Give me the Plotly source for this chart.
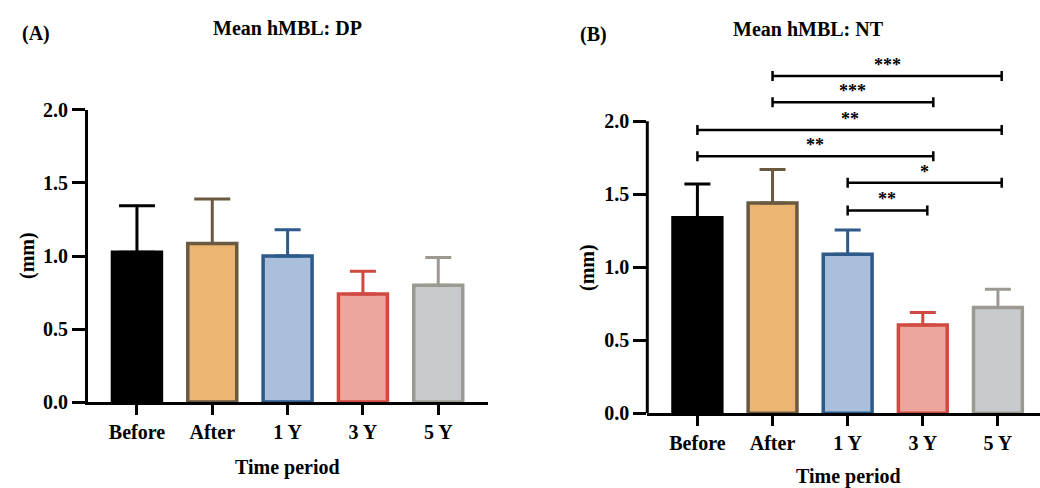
import plotly.graph_objects as go

categories = ["Before", "After", "1 Y", "3 Y", "5 Y"]

dp_mean = [1.025, 1.085, 1.00, 0.74, 0.80]
dp_err = [0.32, 0.305, 0.18, 0.155, 0.19]

nt_mean = [1.34, 1.44, 1.09, 0.605, 0.725]
nt_err = [0.23, 0.23, 0.165, 0.085, 0.125]

fills = ["#000000", "#EDB572", "#A9BFDC", "#ECA69C", "#C8CBCE"]
lines = ["#000000", "#6A5940", "#2D5A8A", "#D04A41", "#9C9A90"]
dp_cap = [18, 18, 13, 13, 13]
nt_cap = [13, 13, 13, 13, 13]

# significance comparisons in panel B: start, end (category positions), label, level (mm)
cmp_start = [1, 1, 0, 0, 2, 2]
cmp_end = [4.05, 3.14, 4.05, 3.14, 4.05, 3.06]
cmp_label = ["***", "***", "**", "**", "*", "**"]
cmp_level = [2.31, 2.13, 1.94, 1.76, 1.58, 1.39]

FONT = "Liberation Serif"
fig = go.Figure()

for i, c in enumerate(categories):
    fig.add_trace(go.Bar(
        x=[c], y=[dp_mean[i]], xaxis="x", yaxis="y", width=0.65,
        marker=dict(color=fills[i], line=dict(color=lines[i], width=3.5)),
        error_y=dict(type="data", symmetric=False, array=[dp_err[i]], arrayminus=[0],
                     color=lines[i], thickness=3, width=dp_cap[i]),
        showlegend=False))
    fig.add_trace(go.Bar(
        x=[c], y=[nt_mean[i]], xaxis="x2", yaxis="y2", width=0.65,
        marker=dict(color=fills[i], line=dict(color=lines[i], width=3.5)),
        error_y=dict(type="data", symmetric=False, array=[nt_err[i]], arrayminus=[0],
                     color=lines[i], thickness=3, width=nt_cap[i]),
        showlegend=False))

tickfont = dict(family=FONT, size=20, color="black", weight="bold")
common_x = dict(type="category", categoryorder="array", categoryarray=categories,
                showline=True, linecolor="black", linewidth=3, ticks="outside",
                ticklen=10, tickwidth=3, tickcolor="black", tickfont=tickfont,
                showgrid=False, zeroline=False, automargin=False)
common_y = dict(tickvals=[0, 0.5, 1.0, 1.5, 2.0], tickformat=".1f", ticks="outside",
                ticklen=13, tickwidth=3, tickcolor="black", tickfont=tickfont,
                showgrid=False, zeroline=False, automargin=False)

fig.update_layout(
    template="none",
    width=1040, height=488, margin=dict(l=0, r=0, t=0, b=0, pad=0, autoexpand=False),
    plot_bgcolor="white", paper_bgcolor="white", barmode="overlay",
    font=dict(family=FONT, color="black"),
    xaxis=dict(domain=[0.0846, 0.4692], range=[-0.65, 4.66], anchor="y", **common_x),
    yaxis=dict(domain=[0.1762, 0.7746], range=[0, 2.0], anchor="x",
               showline=True, linecolor="black", linewidth=3, **common_y),
    xaxis2=dict(domain=[0.6224, 1.0], range=[-0.667, 4.56], anchor="y2", **common_x),
    yaxis2=dict(domain=[0.1531, 0.877], range=[0, 2.42], anchor="x2",
                showline=False, **common_y),
)

# panel B y axis line up to 2.0
fig.add_shape(type="line", xref="x2 domain", yref="y2", x0=0, x1=0, y0=0, y1=2.0,
              line=dict(color="black", width=3))

for s, e, lab, lev in zip(cmp_start, cmp_end, cmp_label, cmp_level):
    fig.add_shape(type="line", xref="x2", yref="y2", x0=s, x1=e, y0=lev, y1=lev,
                  line=dict(color="black", width=2.5))
    for xx in (s, e):
        fig.add_shape(type="line", xref="x2", yref="y2", x0=xx, x1=xx,
                      ysizemode="pixel", yanchor=lev, y0=-5, y1=5,
                      line=dict(color="black", width=2.5))
    fig.add_annotation(x=(s + e) / 2, y=lev, xref="x2", yref="y2", text=lab,
                       showarrow=False, yanchor="bottom", yshift=-1,
                       font=dict(family=FONT, size=18, color="black", weight="bold"))

def txt(x, y, t, size=20, angle=0):
    fig.add_annotation(x=x / 1040, y=1 - y / 488, xref="paper", yref="paper", text=t,
                       showarrow=False, textangle=angle, xanchor="center", yanchor="middle",
                       font=dict(family=FONT, size=size, color="black", weight="bold"))

txt(287, 28, "Mean hMBL: DP", 20)
txt(36, 33, "(A)", 20)
txt(808, 29, "Mean hMBL: NT", 20)
txt(593, 34, "(B)", 20)
txt(287, 467, "Time period", 20)
txt(848, 476, "Time period", 20)
txt(27, 256, "(mm)", 20, -90)
txt(587, 268, "(mm)", 20, -90)

fig.write_html("out.html", config={"displayModeBar": False},
               post_script="document.body.style.margin='0';")
